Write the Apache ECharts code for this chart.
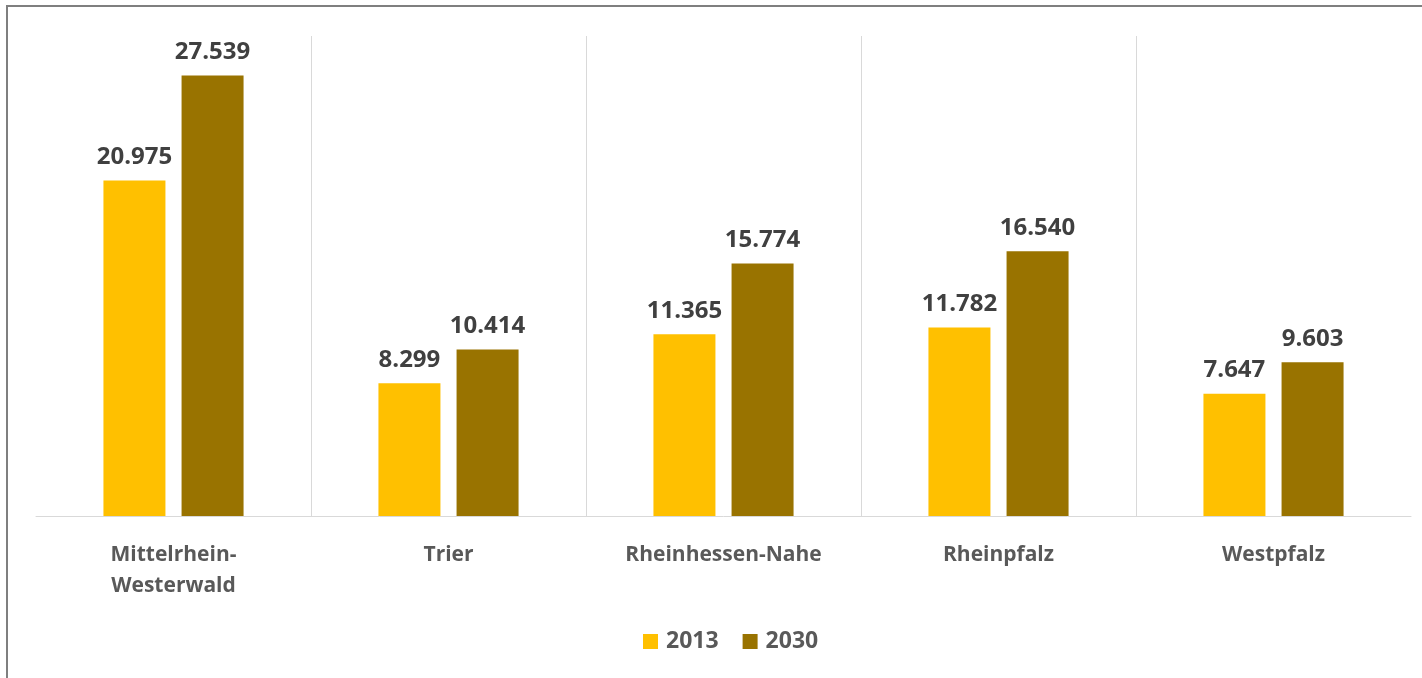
<!DOCTYPE html>
<html>
<head>
<meta charset="utf-8">
<script src="https://cdn.jsdelivr.net/npm/echarts@6/dist/echarts.min.js"></script>
<style>
html,body{margin:0;padding:0;background:#fff;}
#frame{position:absolute;left:6px;top:5px;width:1416px;height:673px;border-top:2px solid #7f7f7f;border-left:2px solid #7f7f7f;box-sizing:border-box;}
#chart{position:absolute;left:0;top:0;width:1422px;height:678px;}
</style>
</head>
<body>
<div id="frame"></div>
<div id="chart"></div>
<script>
const categories = ["Mittelrhein-\nWesterwald", "Trier", "Rheinhessen-Nahe", "Rheinpfalz", "Westpfalz"];
const seriesNames = ["2013", "2030"];
const values2013 = [20.975, 8.299, 11.365, 11.782, 7.647];
const values2030 = [27.539, 10.414, 15.774, 16.540, 9.603];

const chart = echarts.init(document.getElementById('chart'));
const fontFam = '"Open Sans", sans-serif';
const labelCfg = {
  show: true, position: 'top', distance: 11,
  color: '#404040', fontFamily: fontFam, fontWeight: 'bold', fontSize: 24,
  formatter: p => p.value.toFixed(3)
};
chart.setOption({
  animation: false,
  backgroundColor: 'transparent',
  grid: {left: 36, right: 11, top: 36, bottom: 162, containLabel: false},
  legend: {
    bottom: 20, left: 638,
    itemWidth: 15, itemHeight: 15, itemGap: 24,
    icon: 'rect',
    textStyle: {color: '#595959', fontFamily: fontFam, fontWeight: 'bold', fontSize: 23, padding: [0, 0, 0, 3]},
    data: seriesNames
  },
  xAxis: {
    type: 'category', data: categories,
    axisLine: {lineStyle: {color: '#d9d9d9', width: 1}},
    axisTick: {show: false},
    splitLine: {show: true, showMinLine: false, showMaxLine: false, lineStyle: {color: '#d9d9d9', width: 1}},
    axisLabel: {margin: 24, color: '#595959', fontFamily: fontFam, fontWeight: 'bold', fontSize: 21, lineHeight: 31, interval: 0}
  },
  yAxis: {
    type: 'value', min: 0, max: 30, show: false,
    splitLine: {show: false}
  },
  series: [
    {name: seriesNames[0], type: 'bar', data: values2013, barWidth: 62, barGap: '26%',
     itemStyle: {color: '#FFC000'}, label: labelCfg},
    {name: seriesNames[1], type: 'bar', data: values2030, barWidth: 62, barGap: '26%',
     itemStyle: {color: '#997300'}, label: labelCfg}
  ]
});
</script>
</body>
</html>
